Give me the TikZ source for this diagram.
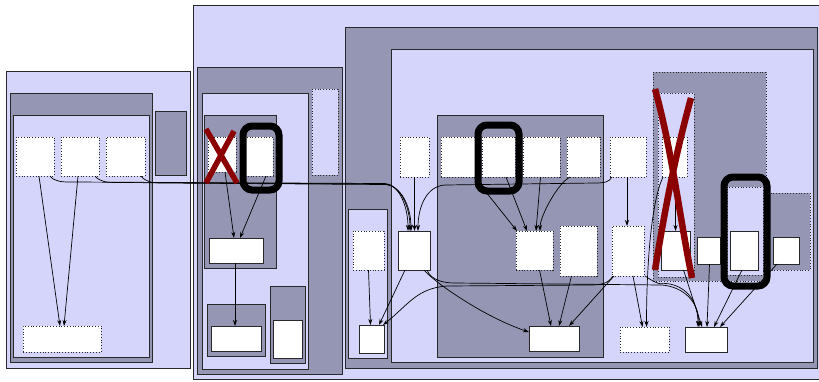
\documentclass[tikz,border=0pt]{standalone}
\usetikzlibrary{fit,arrows.meta,calc}
\definecolor{lightc}{RGB}{213,213,252}
\definecolor{darkc}{RGB}{148,150,180}
\definecolor{xred}{RGB}{139,0,0}
\definecolor{bord}{RGB}{40,40,40}
\tikzset{
  box/.style={inner sep=0pt, outer sep=0pt, line width=0.8pt},
  lt/.style={box, fill=lightc, draw=bord},
  dk/.style={box, fill=darkc, draw=bord},
  dkdot/.style={box, fill=darkc, draw=bord, dash pattern=on 0.8pt off 2pt},
  ltdot/.style={box, fill=lightc, draw=bord, dash pattern=on 0.8pt off 2pt},
  wdot/.style={box, fill=white, draw=bord, dash pattern=on 0.8pt off 2pt},
  wsolid/.style={box, fill=white, draw=bord, line width=1pt},
  e/.style={draw=black, line width=0.7pt, -{Stealth[length=6pt,width=4pt]}},
  ring/.style={box, draw=black, line width=7pt, rounded corners=9pt},
  redx/.style={draw=xred, line width=5.5pt}
}
\begin{document}
\begin{tikzpicture}[x=1pt,y=-1pt]
\useasboundingbox (0,0) rectangle (819,381);
% cluster A
\node[lt,fit={(6,71)(190,368)}] (cA) {};
\node[dk,fit={(10,93)(152,362)}] (cA1) {};
\node[lt,fit={(13,115)(149,357)}] (cA2) {};
\node[wdot,fit={(16,137)(54,176)}] (a1) {};
\node[wdot,fit={(61,137)(99,176)}] (a2) {};
\node[wdot,fit={(106,137)(145,176)}] (a3) {};
\node[wdot,fit={(23,326)(101,352)}] (a4) {};
\node[dk,fit={(155,111)(186,175)}] (a5) {};
% cluster B
\node[lt,fit={(193,5)(824,379)}] (cB) {};
\node[dk,fit={(197,67)(342,374)}] (cB1) {};
\node[lt,fit={(202,93)(308,369)}] (cB2) {};
\node[dk,fit={(204,115)(276,268)}] (cB3) {};
\node[wdot,fit={(208,137)(236,172)}] (b1) {};
\node[wdot,fit={(245,137)(273,176)}] (b2) {};
\node[wsolid,fit={(209,238)(263,263)}] (b3) {};
\node[dk,fit={(207,304)(265,356)}] (cB4) {};
\node[wsolid,fit={(211,326)(261,351)}] (b4) {};
\node[dk,fit={(270,286)(305,363)}] (cB5) {};
\node[wsolid,fit={(273,320)(302,358)}] (b5) {};
\node[ltdot,fit={(312,89)(338,175)}] (b6) {};
% cluster C
\node[dk,fit={(345,27)(817,368)}] (cC) {};
\node[lt,fit={(391,49)(813,362)}] (cC1) {};
\node[lt,fit={(348,209)(387,358)}] (cC2) {};
\node[wdot,fit={(353,231)(384,270)}] (c1) {};
\node[wsolid,fit={(359,325)(384,353)}] (c2) {};
\node[wdot,fit={(400,137)(429,177)}] (c3) {};
\node[wsolid,fit={(398,231)(430,270)}] (c4) {};
\node[dk,fit={(437,115)(603,357)}] (cC3) {};
\node[wdot,fit={(441,137)(477,177)}] (c5) {};
\node[wdot,fit={(482,137)(515,177)}] (c6) {};
\node[wdot,fit={(523,137)(560,177)}] (c7) {};
\node[wdot,fit={(567,137)(600,177)}] (c8) {};
\node[wdot,fit={(516,231)(553,270)}] (c9) {};
\node[wdot,fit={(560,226)(597,276)}] (c10) {};
\node[wsolid,fit={(529,326)(579,351)}] (c11) {};
\node[wdot,fit={(610,137)(646,177)}] (c12) {};
\node[wdot,fit={(612,226)(644,276)}] (c13) {};
\node[dkdot,fit={(653,72)(766,281)}] (cC4) {};
\node[dkdot,fit={(724,193)(810,270)}] (cC5) {};
\node[ltdot,fit={(658,93)(694,277)}] (cC6) {};
\node[wdot,fit={(662,137)(687,177)}] (c14) {};
\node[wsolid,fit={(661,231)(690,270)}] (c15) {};
\node[wsolid,fit={(697,237)(720,264)}] (c16) {};
\node[ltdot,fit={(727,187)(763,275)}] (cC7) {};
\node[wsolid,fit={(730,231)(758,270)}] (c17) {};
\node[wsolid,fit={(773,237)(799,264)}] (c18) {};
\node[wdot,fit={(620,327)(669,352)}] (c19) {};
\node[wsolid,fit={(685,327)(727,352)}] (c20) {};
% edges cluster A
\draw[e] ([xshift=4]a1.south) -- ([xshift=-2]a4.north);
\draw[e] ([xshift=-2]a2.south) -- ([xshift=2]a4.north);
\draw[e] ([xshift=-4]a1.south east) .. controls +(5,6) and +(-10,0) .. (72,182) -- (385,183.5) .. controls +(14,1) and +(0,-25) .. ([xshift=-6]c4.north);
\draw[e] ([xshift=-4]a2.south east) .. controls +(5,6) and +(-10,0) .. (117,182.5) -- (385,184) .. controls +(15,1) and +(0,-25) .. ([xshift=-4]c4.north);
\draw[e] ([xshift=-4]a3.south east) .. controls +(5,6) and +(-10,0) .. (162,183) -- (385,184.5) .. controls +(16,1) and +(0,-25) .. ([xshift=-3]c4.north);
% edges cluster B
\draw[e] ([xshift=3]b1.south) -- ([xshift=-2]b3.north);
\draw[e] ([xshift=-7]b2.south east) -- ([xshift=4]b3.north);
\draw[e] ([xshift=-1]b3.south) -- ([xshift=-1]b4.north);
% edges cluster C
\draw[e] (c3.south) -- (c3.south |- c4.north);
\draw[e] ([xshift=2]c12.south west) .. controls +(-3,5) and +(10,0) .. (595,183) -- (445,185) .. controls +(-18,1) and +(0,-25) .. ([xshift=4]c4.north);
\draw[e] ([xshift=-3]c5.south east) -- ([xshift=1]c9.north west);
\draw[e] ([xshift=-9]c6.south east) -- ([xshift=11]c9.north west);
\draw[e] ([xshift=-1]c7.south) -- ([xshift=20]c9.north west);
\draw[e] ([xshift=3]c8.south west) .. controls +(-12,6) and +(0,-15) .. ([xshift=24]c9.north west);
\draw[e] ([xshift=5]c9.south) -- ([xshift=-3]c11.north);
\draw[e] ([xshift=-7]c10.south) -- ([xshift=5]c11.north);
\draw[e] ([xshift=2]c13.south west) -- ([xshift=-10]c11.north east);
\draw[e] ([xshift=-6]c4.south east) .. controls +(10,12) and +(-45,-15) .. ([yshift=-6]c11.north west);
\draw[e] ([xshift=-3]c4.south east) .. controls +(4,10) and +(-12,0) .. (455,283) -- (662,285) .. controls +(22,2) and +(0,-25) .. ([xshift=-7]c20.north);
\draw[e] ([xshift=1]c13.south west) .. controls +(-5,8) and +(10,0) .. (590,285) -- (447,286) .. controls +(-30,2) and +(25,-20) .. ([xshift=-1]c2.north east);
\draw[e] ([xshift=-9]c4.south) -- ([xshift=-5]c2.north east);
\draw[e] (c1.south) -- ([xshift=-1]c2.north);
\draw[e] ([xshift=-1]c12.south) -- ([xshift=-1]c12.south |- c13.north);
\draw[e] ([xshift=5]c13.south) -- ([xshift=-2]c19.north);
\draw[e] ([xshift=1]c14.south west) .. controls +(-12,25) and +(0,-60) .. ([xshift=2]c19.north);
\draw[e] ([xshift=1]c13.south east) .. controls +(18,12) and +(-10,-2) .. (670,284) .. controls +(18,4) and +(0,-25) .. ([xshift=-8]c20.north);
\draw[e] ([xshift=1]c14.south) -- ([xshift=1]c14.south |- c15.north);
\draw[e] ([xshift=8]c15.south) -- ([xshift=-4]c20.north);
\draw[e] ([xshift=1]c16.south) -- ([xshift=1]c20.north);
\draw[e] ([xshift=-2]c17.south) -- ([xshift=8]c20.north);
\draw[e] ([xshift=4]c18.south west) -- ([xshift=14]c20.north);
% highlight rings
\node[ring,fit={(243,126)(279,190)}] (r1) {};
\node[ring,fit={(478,125)(519,191)}] (r2) {};
\node[ring,fit={(724,177)(767,286)}] (r3) {};
% red crosses
\draw[redx] (206,129) -- (237,183);
\draw[redx] (234,131) -- (206,183);
\draw[redx,line width=6.5pt] (655,89) .. controls (672,150) and (680,220) .. (692,278);
\draw[redx,line width=6.5pt] (691,98) .. controls (674,160) and (664,215) .. (655,270);
\end{tikzpicture}
\end{document}
